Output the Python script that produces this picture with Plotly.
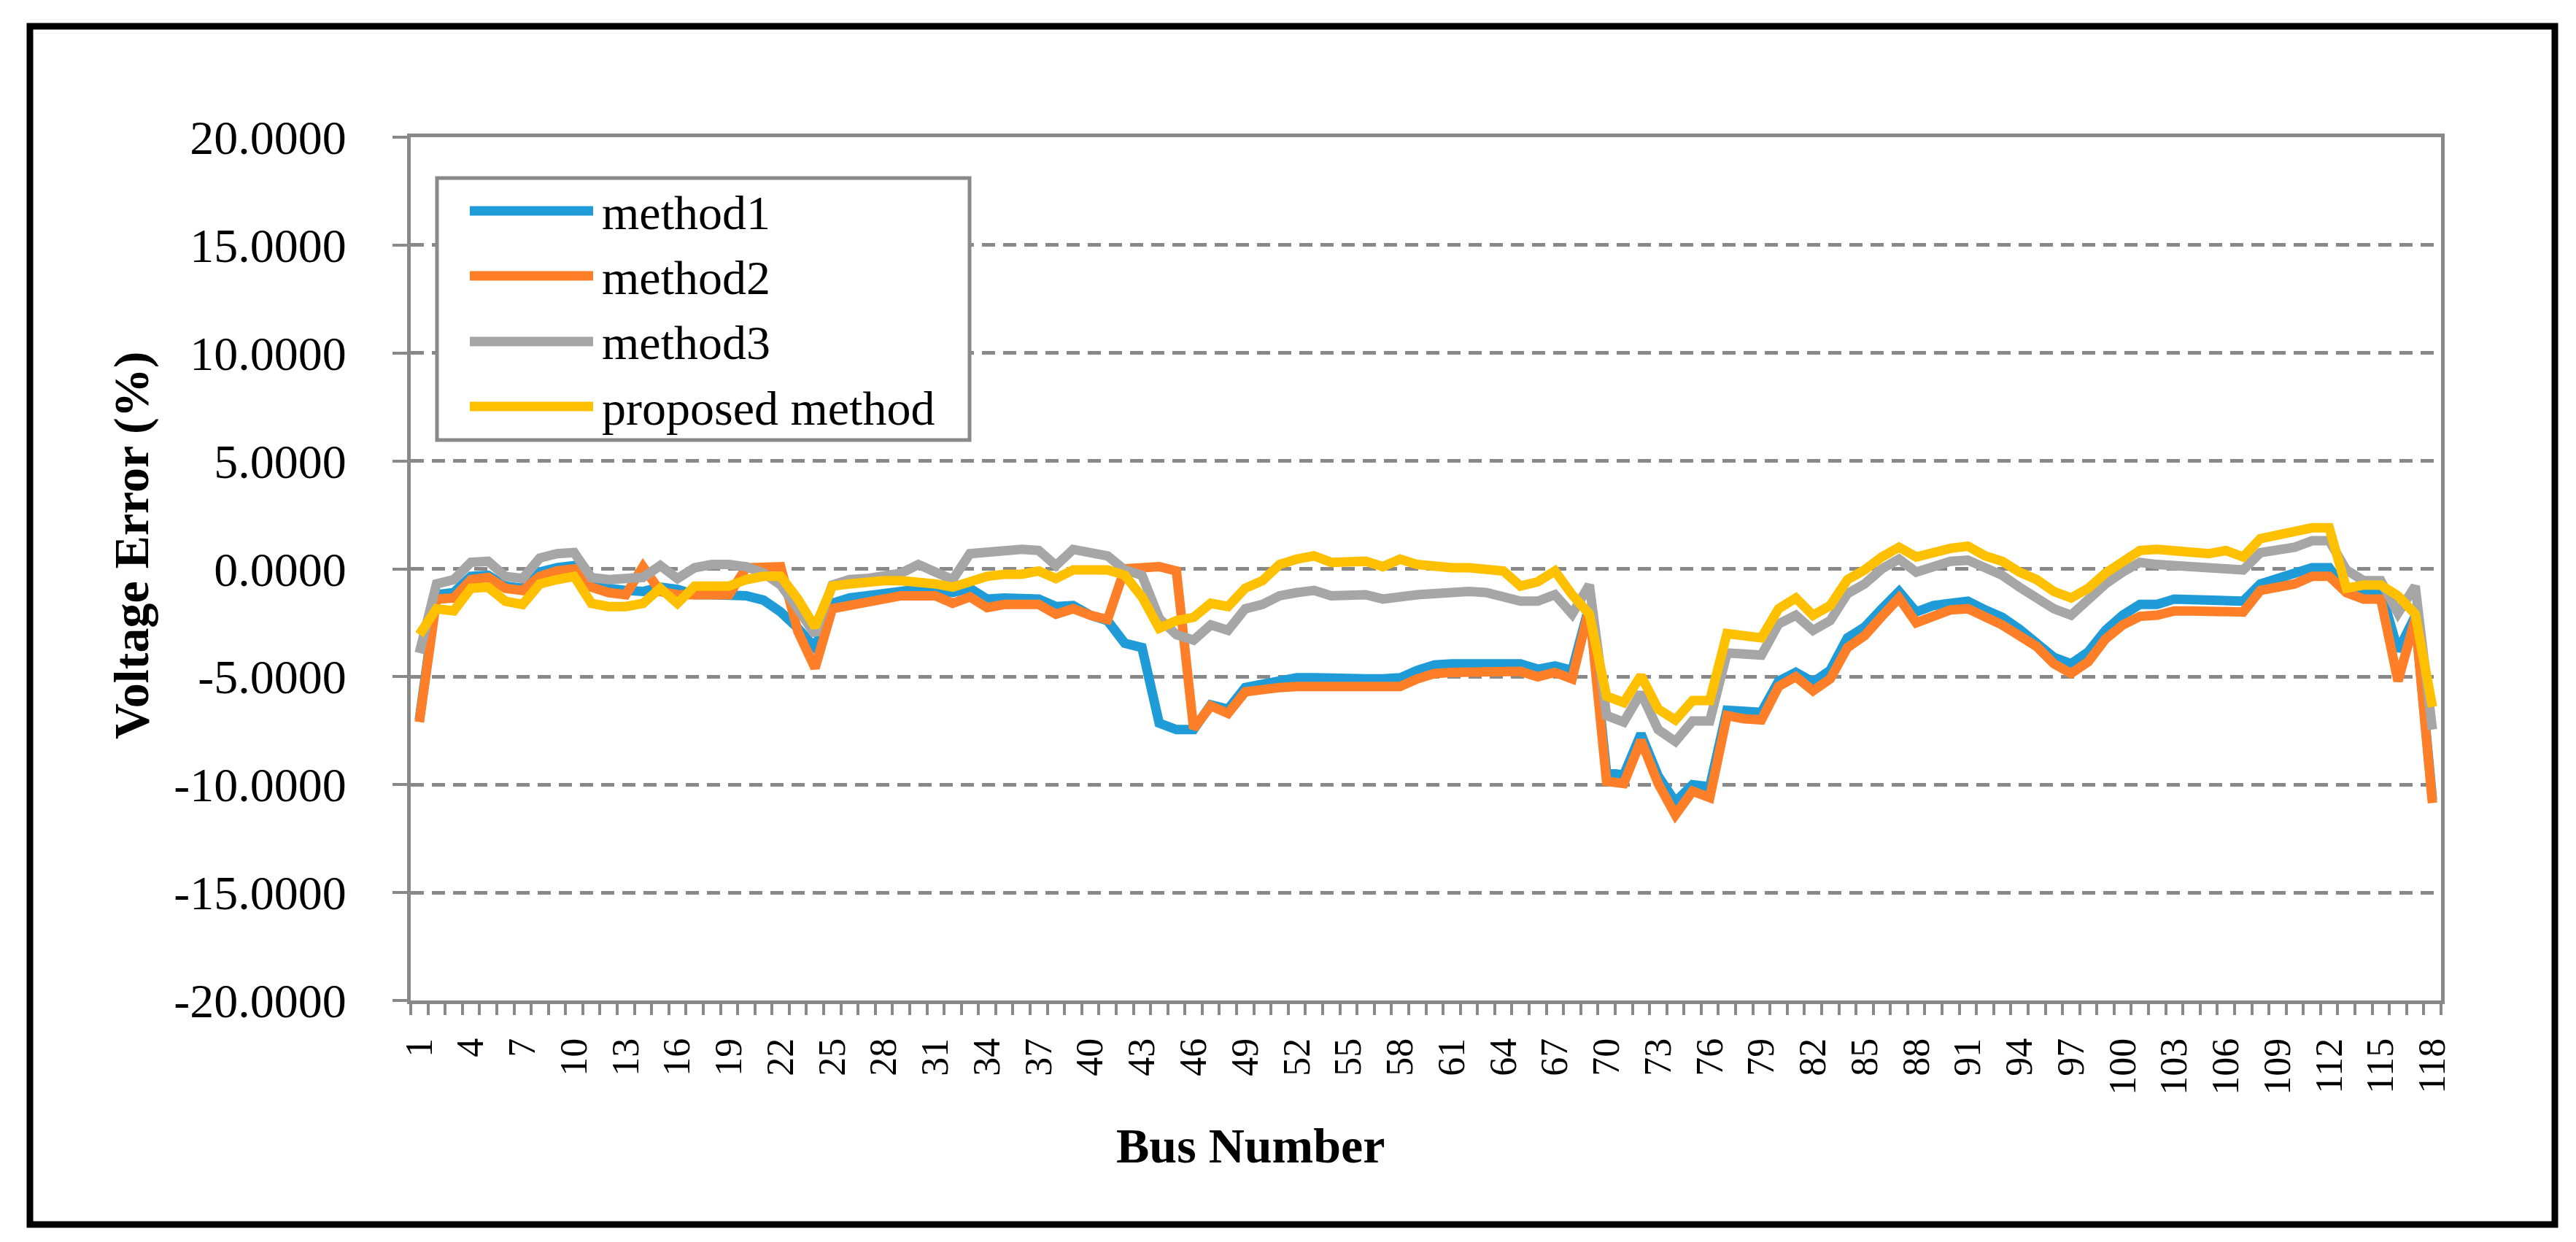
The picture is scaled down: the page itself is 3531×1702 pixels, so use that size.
import plotly.graph_objects as go

# ---------------- data ----------------
bus = list(range(1, 119))

method1 = [-7.0, -1.2, -1.1, -0.35, -0.3, -0.8, -0.9, -0.15, 0.05, 0.15,
           -0.8, -0.95, -1.0, -1.05, -0.85, -0.95, -1.2, -1.2, -1.2, -1.25,
           -1.45, -2.0, -2.75, -3.65, -1.6, -1.35, -1.25, -1.1, -1.05, -0.95,
           -1.0, -1.1, -0.9, -1.4, -1.35, -1.35, -1.4, -1.75, -1.7, -2.15,
           -2.4, -3.45, -3.65, -7.15, -7.45, -7.45, -6.3, -6.5, -5.5, -5.35,
           -5.2, -5.05, -5.05, -5.1, -5.1, -5.1, -5.1, -5.05, -4.7, -4.45,
           -4.4, -4.4, -4.45, -4.4, -4.4, -4.65, -4.5, -4.7, -1.7, -9.45,
           -9.55, -7.65, -9.6, -10.8, -10.0, -10.1, -6.55, -6.6, -6.65, -5.2,
           -4.8, -5.25, -4.7, -3.2, -2.7, -1.85, -1.05, -2.0, -1.7, -1.6,
           -1.5, -1.9, -2.25, -2.8, -3.4, -4.1, -4.4, -3.85, -2.85, -2.15,
           -1.65, -1.65, -1.4, -1.45, -1.5, -1.45, -1.5, -0.7, -0.45, -0.3,
           0.05, 0.05, -1.05, -1.0, -1.0, -3.8, -2.2, -10.7]

method2 = [-7.1, -1.4, -1.35, -0.5, -0.4, -0.9, -1.0, -0.35, -0.1, 0.0,
           -0.85, -1.1, -1.2, 0.1, -1.05, -1.2, -1.2, -1.2, -1.2, 0.05,
           0.1, 0.1, -2.9, -4.6, -1.85, -1.7, -1.5, -1.3, -1.25, -1.25,
           -1.25, -1.6, -1.3, -1.8, -1.65, -1.65, -1.65, -2.1, -1.85, -2.15,
           -2.35, 0.0, 0.1, 0.1, -0.1, -7.4, -6.35, -6.7, -5.7, -5.55,
           -5.5, -5.45, -5.45, -5.5, -5.5, -5.5, -5.5, -5.45, -5.1, -4.85,
           -4.8, -4.8, -4.85, -4.75, -4.75, -5.0, -4.8, -5.1, -1.8, -9.85,
           -9.95, -7.95, -9.95, -11.4, -10.3, -10.6, -6.8, -6.95, -7.0, -5.45,
           -5.0, -5.65, -5.1, -3.65, -3.1, -2.2, -1.35, -2.5, -2.2, -1.9,
           -1.85, -2.2, -2.6, -3.1, -3.6, -4.4, -4.85, -4.3, -3.25, -2.6,
           -2.2, -2.15, -1.95, -1.95, -2.0, -1.95, -2.0, -1.0, -0.85, -0.7,
           -0.35, -0.35, -1.1, -1.4, -1.4, -5.2, -2.3, -10.85]

method3 = [-3.9, -0.7, -0.5, 0.3, 0.35, -0.35, -0.45, 0.5, 0.7, 0.75,
           -0.4, -0.5, -0.45, -0.4, 0.15, -0.45, 0.05, 0.2, 0.2, 0.1,
           -0.2, -0.75, -1.85, -3.05, -0.75, -0.5, -0.45, -0.3, -0.2, 0.2,
           -0.15, -0.5, 0.7, 0.8, 0.9, 0.9, 0.85, 0.15, 0.9, 0.75,
           0.6, -0.05, -0.3, -2.3, -3.05, -3.3, -2.6, -2.85, -1.85, -1.65,
           -1.25, -1.1, -1.0, -1.25, -1.2, -1.2, -1.4, -1.25, -1.2, -1.15,
           -1.05, -1.05, -1.1, -1.25, -1.5, -1.5, -1.2, -2.1, -0.75, -6.8,
           -7.1, -5.75, -7.45, -8.0, -7.05, -7.05, -3.9, -3.95, -4.0, -2.55,
           -2.15, -2.85, -2.4, -1.15, -0.7, 0.0, 0.45, -0.15, 0.1, 0.35,
           0.4, 0.05, -0.3, -0.85, -1.3, -1.85, -2.15, -1.45, -0.7, -0.15,
           0.3, 0.2, 0.15, 0.15, 0.05, 0.1, -0.05, 0.75, 0.9, 1.0,
           1.3, 1.3, -0.05, -0.55, -0.55, -2.05, -0.8, -7.45]

proposed = [-3.05, -1.85, -1.95, -0.9, -0.85, -1.5, -1.65, -0.7, -0.5, -0.35,
            -1.6, -1.75, -1.75, -1.6, -0.9, -1.6, -0.8, -0.8, -0.8, -0.5,
            -0.35, -0.35, -1.4, -2.7, -0.8, -0.7, -0.6, -0.55, -0.55, -0.6,
            -0.7, -0.85, -0.55, -0.35, -0.25, -0.25, -0.1, -0.45, -0.05, -0.05,
            -0.05, -0.3, -1.3, -2.75, -2.4, -2.25, -1.6, -1.75, -0.9, -0.55,
            0.2, 0.45, 0.6, 0.3, 0.35, 0.35, 0.1, 0.45, 0.2, 0.1,
            0.05, 0.05, 0.0, -0.1, -0.8, -0.6, -0.1, -1.2, -2.1, -5.9,
            -6.2, -4.95, -6.5, -7.0, -6.1, -6.1, -3.0, -3.1, -3.2, -1.85,
            -1.35, -2.15, -1.7, -0.5, -0.05, 0.55, 1.0, 0.55, 0.8, 0.95,
            1.05, 0.6, 0.35, -0.15, -0.5, -1.05, -1.35, -0.9, -0.2, 0.3,
            0.85, 0.9, 0.8, 0.8, 0.7, 0.85, 0.55, 1.4, 1.55, 1.7,
            1.9, 1.9, -0.9, -0.75, -0.75, -1.25, -2.1, -6.4]

series_names = ["method1", "method2", "method3", "proposed method"]
series_colors = ["#1f9cd8", "#fe7f27", "#a6a6a6", "#ffc000"]

x_tick_vals = bus[::3]
x_tick_text = [str(b) for b in x_tick_vals]
y_tick_vals = [-20, -15, -10, -5, 0, 5, 10, 15, 20]
y_tick_text = [("-" if v < 0 else "") + "%.4f" % abs(v) for v in y_tick_vals]

x_title = "Bus Number"
y_title = "Voltage Error (%)"

# ---------------- layout geometry (pixels) ----------------
W, H = 3531, 1702
L, R, T, B = 555, 193, 180, 339
PW, PH = W - L - R, H - T - B
AXC = "#898989"
FONT = "Liberation Serif, Times New Roman, serif"


def px(x):
    return (x - L) / PW


def py(y):
    return (H - B - y) / PH


fig = go.Figure()
for name, col, vals in zip(series_names, series_colors,
                           [method1, method2, method3, proposed]):
    fig.add_trace(go.Scatter(x=bus, y=vals, mode="lines", name=name,
                             line=dict(color=col, width=13),
                             showlegend=False))

shapes = []
# outer black frame
shapes.append(dict(type="rect", xref="paper", yref="paper",
                   x0=px(33), x1=px(3494), y0=py(1670), y1=py(28),
                   line=dict(color="black", width=9), layer="above"))
# legend box
shapes.append(dict(type="rect", xref="paper", yref="paper",
                   x0=px(591), x1=px(1321), y0=py(595), y1=py(236),
                   line=dict(color=AXC, width=5), fillcolor="white",
                   layer="above"))
annotations = []
leg_y = [281, 370, 460, 549]
for name, col, yy in zip(series_names, series_colors, leg_y):
    shapes.append(dict(type="line", xref="paper", yref="paper",
                       x0=px(636), x1=px(805), y0=py(yy), y1=py(yy),
                       line=dict(color=col, width=13), layer="above"))
    annotations.append(dict(xref="paper", yref="paper", x=px(815), y=py(yy + 2),
                            text=name, showarrow=False, xanchor="left",
                            yanchor="middle",
                            font=dict(family=FONT, size=66, color="black")))

# axis titles
annotations.append(dict(xref="paper", yref="paper", x=px(1706), y=py(1562),
                        text="<b>" + x_title + "</b>", showarrow=False,
                        xanchor="center", yanchor="middle",
                        font=dict(family=FONT, size=68, color="black")))
annotations.append(dict(xref="paper", yref="paper", x=px(172), y=py(740),
                        text="<b>" + y_title + "</b>", showarrow=False,
                        textangle=-90, xanchor="center", yanchor="middle",
                        font=dict(family=FONT, size=68, color="black")))

fig.update_layout(
    width=W, height=H, autosize=False,
    margin=dict(l=L, r=R, t=T, b=B, pad=0),
    paper_bgcolor="white", plot_bgcolor="white",
    shapes=shapes, annotations=annotations,
    xaxis=dict(
        range=[0.5, 118.5], tickmode="array",
        tickvals=x_tick_vals, ticktext=x_tick_text, tickangle=-90,
        tickfont=dict(family=FONT, size=52, color="black"),
        ticks="outside", ticklen=26, tickcolor="rgba(0,0,0,0)",
        showgrid=False, zeroline=False,
        showline=True, linecolor=AXC, linewidth=5, mirror=True,
        minor=dict(tickmode="linear", tick0=0.5, dtick=1, ticks="outside",
                   ticklen=15, tickwidth=4, tickcolor=AXC, showgrid=False),
    ),
    yaxis=dict(
        range=[-20, 20], tickmode="array",
        tickvals=y_tick_vals, ticktext=y_tick_text,
        tickfont=dict(family=FONT, size=66, color="black"),
        ticks="outside", ticklen=20, tickwidth=4, tickcolor=AXC,
        ticklabelstandoff=50,
        showgrid=True, gridcolor=AXC, gridwidth=5, griddash="18px,11px",
        zeroline=False,
        showline=True, linecolor=AXC, linewidth=5, mirror=True,
    ),
)

fig.write_html("out.html")
